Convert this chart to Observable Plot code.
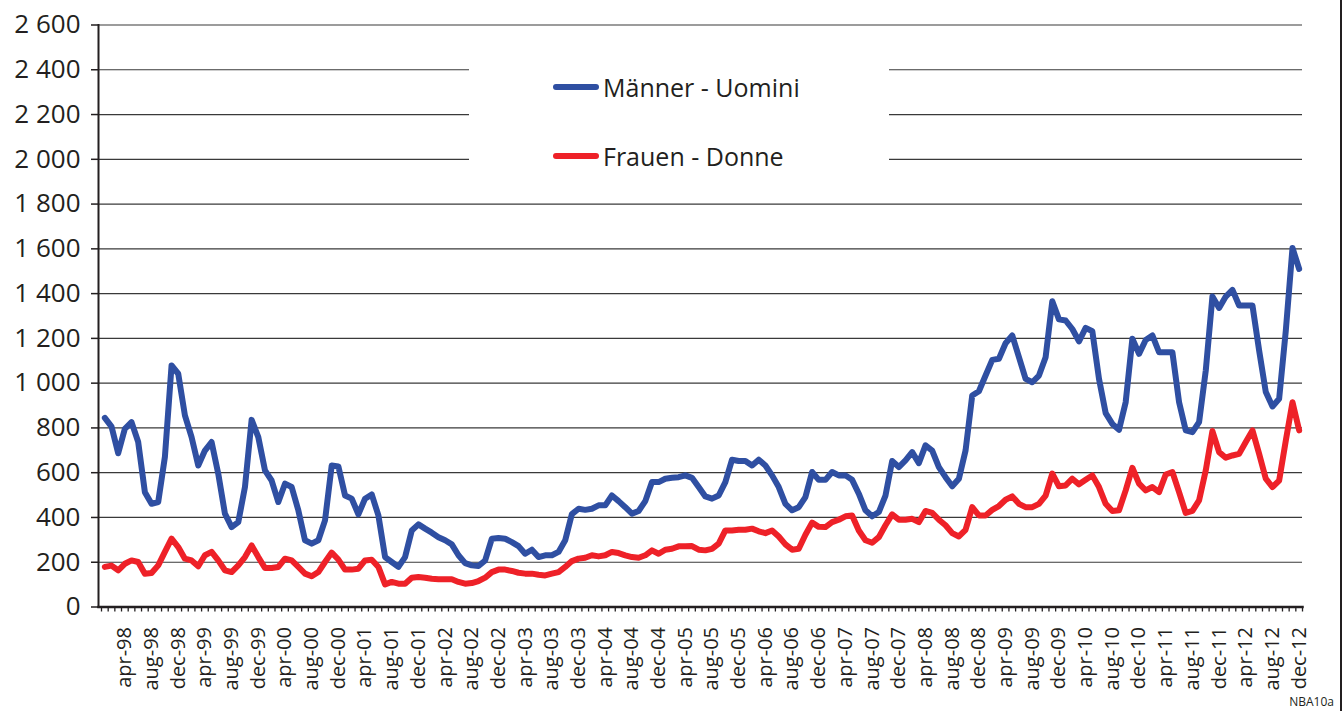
<!DOCTYPE html>
<html>
<head>
<meta charset="utf-8">
<script src="https://cdn.jsdelivr.net/npm/d3@7"></script>
<script src="https://cdn.jsdelivr.net/npm/@observablehq/plot@0.6"></script>
<style>
  html, body { margin: 0; padding: 0; background: #fff; }
  #wrap { position: relative; width: 1344px; height: 711px; overflow: hidden; font-family: "Open Sans", sans-serif; color: #231f20; }
  #overlay { position: absolute; left: 0; top: 0; pointer-events: none; }
</style>
</head>
<body>
<div id="wrap"></div>
<script>
// Month categories Jan 1998 – Dec 2012
const monthNames = ["jan","feb","mar","apr","may","jun","jul","aug","sep","oct","nov","dec"];
const years = ["98","99","00","01","02","03","04","05","06","07","08","09","10","11","12"];
const months = years.flatMap(y => monthNames.map(m => `${m}-${y}`));

// Tick labels shown on the x axis
const xTickLabels = ["apr-98","aug-98","dec-98","apr-99","aug-99","dec-99","apr-00","aug-00","dec-00",
  "apr-01","aug-01","dec-01","apr-02","aug-02","dec-02","apr-03","aug-03","dec-03","apr-04","aug-04","dec-04",
  "apr-05","aug-05","dec-05","apr-06","aug-06","dec-06","apr-07","aug-07","dec-07","apr-08","aug-08","dec-08",
  "apr-09","aug-09","dec-09","apr-10","aug-10","dec-10","apr-11","aug-11","dec-11","apr-12","aug-12","dec-12"];

// y-axis tick values
const yTicks = [0,200,400,600,800,1000,1200,1400,1600,1800,2000,2200,2400,2600];

// Series
const seriesNames = ["Männer - Uomini", "Frauen - Donne"];
const seriesColors = ["#2f4fa2", "#ee2128"];

const maenner = [
  845,806,687,796,826,737,513,461,469,670,1079,1042,
  856,759,632,699,737,595,417,357,379,536,836,759,
  610,565,469,551,536,432,298,283,298,387,632,628,
  498,484,414,484,503,409,223,201,179,223,342,369,
  350,332,312,298,280,231,196,186,183,208,305,308,
  305,290,272,238,256,223,231,231,246,298,415,439,
  434,439,454,454,498,473,446,417,429,473,558,558,
  573,577,580,588,577,536,494,484,498,558,658,652,
  652,632,658,632,588,536,461,432,446,491,603,568,
  568,603,588,588,568,506,432,405,424,498,652,625,
  655,692,643,722,699,625,580,539,573,699,945,964,
  1034,1104,1109,1178,1213,1116,1019,1004,1034,1116,1366,1285,
  1280,1242,1187,1247,1232,1019,866,818,792,915,1198,1131,
  1193,1213,1138,1138,1138,915,789,781,826,1056,1387,1336,
  1387,1417,1347,1347,1347,1146,960,896,930,1235,1604,1510
];

const frauen = [
  179,185,164,193,208,201,149,152,186,246,305,268,
  216,208,182,231,246,208,164,156,186,223,275,223,
  174,174,179,216,208,179,149,137,156,201,243,212,
  167,167,171,208,211,179,101,112,104,104,131,134,
  131,126,124,124,124,112,104,107,116,131,156,167,
  167,161,153,149,149,144,141,149,156,179,205,216,
  220,231,226,231,246,241,231,223,220,231,253,238,
  256,260,271,271,272,256,253,260,283,342,342,345,
  345,350,338,330,342,315,280,256,260,323,377,358,
  357,379,390,405,409,342,298,287,312,365,414,390,
  390,394,379,429,420,390,365,330,315,345,446,409,
  409,434,451,479,494,461,446,446,461,498,596,539,
  543,573,548,568,588,536,461,429,432,521,622,551,
  521,536,513,592,603,513,420,429,476,610,786,692,
  667,677,684,737,789,684,573,536,565,744,915,789
];

const data = [
  ...months.map((m, i) => ({i, month: m, value: maenner[i], series: seriesNames[0]})),
  ...months.map((m, i) => ({i, month: m, value: frauen[i], series: seriesNames[1]}))
];

const labelIndex = xTickLabels.map(l => months.indexOf(l));
const boundaryTicks = d3.range(-0.5, months.length, 1);
const fmt = d => d3.format(",")(d).replace(/,/g, " ");

const W = 1344, H = 711;
const chart = Plot.plot({
  width: W,
  height: H,
  marginLeft: 98,
  marginRight: 42,
  marginTop: 24.5,
  marginBottom: 104.5,
  style: {fontFamily: "'Open Sans', sans-serif", color: "#231f20", background: "transparent"},
  x: {domain: [-0.95, months.length - 0.5], axis: null, label: null},
  y: {domain: [0, 2600], axis: null, label: null},
  color: {domain: seriesNames, range: seriesColors},
  marks: [
    Plot.gridY(yTicks, {stroke: "#3a3a3a", strokeOpacity: 1, strokeWidth: 1.2}),
    Plot.axisY(yTicks, {tickSize: 7, tickPadding: 11, tickFormat: fmt, fontSize: 26, label: null,
      stroke: "#231f20", strokeWidth: 1.5}),
    Plot.axisX(boundaryTicks, {tickSize: 5, tickFormat: () => "", label: null, stroke: "#231f20", strokeWidth: 1.3}),
    Plot.axisX(labelIndex, {tickSize: 0, tickPadding: 20, tickRotate: -90, fontSize: 20, label: null,
      tickFormat: i => months[i]}),
    Plot.line(data, {x: "i", y: "value", z: "series", stroke: "series", strokeWidth: 6,
      strokeLinejoin: "round", strokeLinecap: "round"}),
    Plot.frame({anchor: "left", stroke: "#231f20", strokeWidth: 2}),
    Plot.frame({anchor: "bottom", stroke: "#231f20", strokeWidth: 2.5})
  ]
});

const wrap = document.getElementById("wrap");
wrap.appendChild(chart);

// Legend and decorations overlay
const ov = d3.select(wrap).append("svg").attr("id", "overlay").attr("width", W).attr("height", H);
ov.append("rect").attr("x", 469).attr("y", 36).attr("width", 420).attr("height", 150).attr("fill", "#fff");
const legendRows = [{y: 87}, {y: 156}];
seriesNames.forEach((name, k) => {
  const g = ov.append("g");
  g.append("line").attr("x1", 556).attr("x2", 596).attr("y1", legendRows[k].y).attr("y2", legendRows[k].y)
    .attr("stroke", seriesColors[k]).attr("stroke-width", 6).attr("stroke-linecap", "round");
  g.append("text").attr("x", 603).attr("y", legendRows[k].y + 10)
    .attr("font-family", "'Open Sans', sans-serif").attr("font-size", 25).attr("fill", "#231f20").text(name);
});
ov.append("text").attr("x", 1334).attr("y", 706).attr("text-anchor", "end")
  .attr("font-family", "'Open Sans', sans-serif").attr("font-size", 12).attr("fill", "#231f20").text("NBA10a");
ov.append("line").attr("x1", 1341).attr("x2", 1341).attr("y1", 0).attr("y2", H)
  .attr("stroke", "#231f20").attr("stroke-width", 2);
</script>
</body>
</html>
